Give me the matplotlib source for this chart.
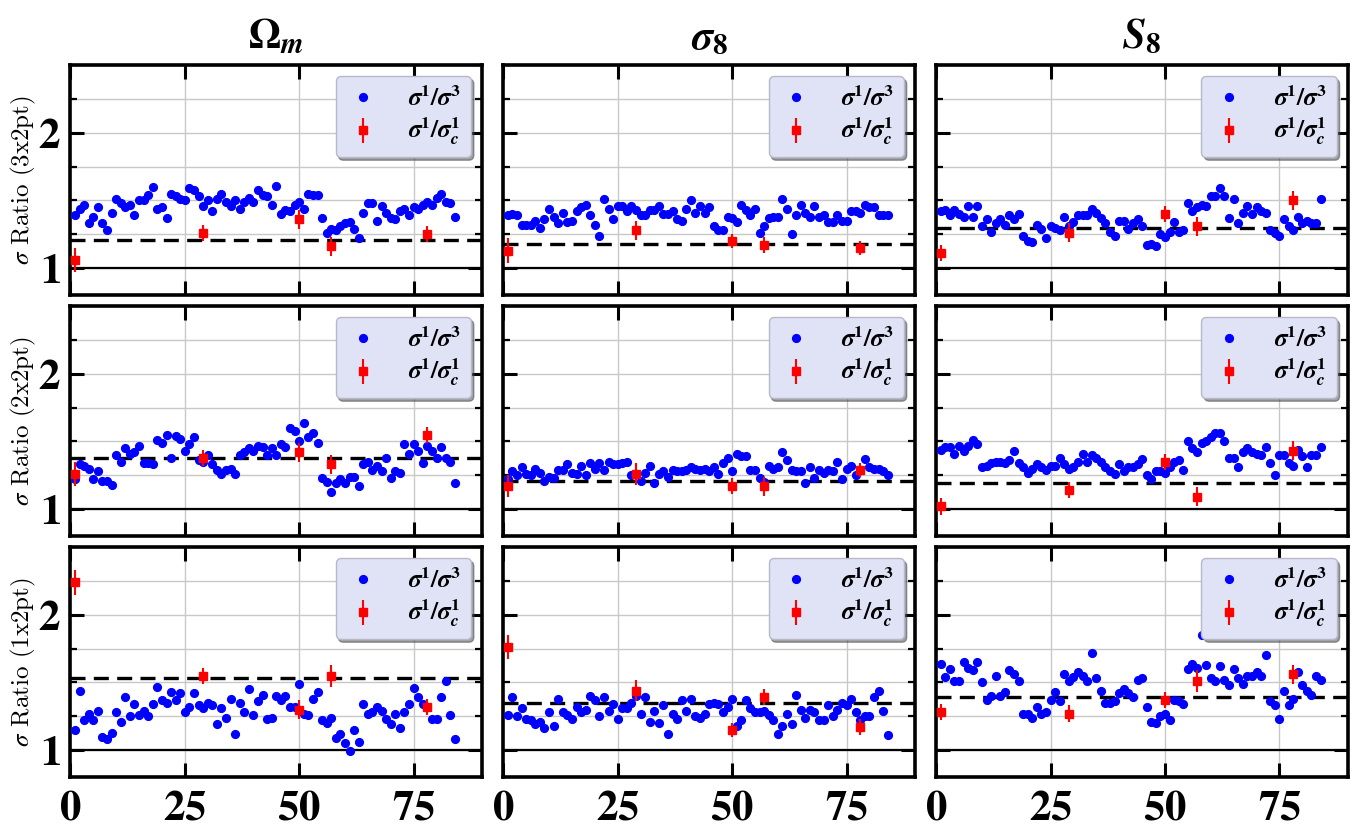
import numpy as np
import matplotlib
matplotlib.use("Agg")
import matplotlib.pyplot as plt
from matplotlib.ticker import MultipleLocator, FixedLocator, FuncFormatter, NullLocator
from matplotlib import mathtext
from io import BytesIO

plt.rcParams["mathtext.fontset"] = "stix"
plt.rcParams["font.family"] = "serif"
plt.rcParams["font.serif"] = ["cmr10", "DejaVu Serif"]
plt.rcParams["axes.formatter.use_mathtext"] = True

# ---------------------------------------------------------------- data
params = ["Omega_m", "sigma_8", "S_8"]
probes = ["3x2pt", "2x2pt", "1x2pt"]

idx = np.arange(1, 85)
red_idx = np.array([1, 29, 50, 57, 78])

# sigma^1 / sigma^3, rows = probes, columns = parameters
r3_om = [1.39, 1.44, 1.47, 1.33, 1.38, 1.45, 1.33, 1.28, 1.41, 1.51, 1.48, 1.45, 1.47, 1.39, 1.50, 1.50, 1.54, 1.60, 1.44, 1.45,
         1.37, 1.55, 1.53, 1.51, 1.50, 1.59, 1.58, 1.53, 1.46, 1.50, 1.42, 1.51, 1.55, 1.49, 1.46, 1.50, 1.44, 1.49, 1.52, 1.49,
         1.58, 1.54, 1.53, 1.47, 1.61, 1.40, 1.43, 1.42, 1.47, 1.49, 1.44, 1.55, 1.54, 1.54, 1.37, 1.26, 1.29, 1.28, 1.31, 1.33,
         1.34, 1.29, 1.22, 1.41, 1.48, 1.48, 1.35, 1.46, 1.41, 1.37, 1.36, 1.42, 1.44, 1.39, 1.45, 1.44, 1.47, 1.49, 1.47, 1.52,
         1.55, 1.49, 1.48, 1.38]
r3_s8 = [1.39, 1.40, 1.39, 1.32, 1.32, 1.32, 1.35, 1.30, 1.36, 1.44, 1.38, 1.33, 1.41, 1.34, 1.35, 1.42, 1.45, 1.47, 1.39, 1.32,
         1.24, 1.51, 1.44, 1.36, 1.46, 1.46, 1.42, 1.46, 1.43, 1.39, 1.39, 1.43, 1.43, 1.46, 1.40, 1.40, 1.42, 1.36, 1.35, 1.44,
         1.50, 1.41, 1.46, 1.41, 1.45, 1.31, 1.28, 1.28, 1.38, 1.37, 1.34, 1.47, 1.43, 1.39, 1.44, 1.26, 1.31, 1.37, 1.38, 1.38,
         1.51, 1.44, 1.25, 1.39, 1.47, 1.41, 1.38, 1.46, 1.38, 1.39, 1.34, 1.34, 1.39, 1.35, 1.35, 1.42, 1.42, 1.41, 1.47, 1.45,
         1.45, 1.39, 1.39, 1.39]
r3_S8 = [1.42, 1.43, 1.39, 1.43, 1.40, 1.38, 1.46, 1.38, 1.46, 1.31, 1.36, 1.27, 1.33, 1.36, 1.32, 1.39, 1.36, 1.40, 1.24, 1.20,
         1.19, 1.32, 1.29, 1.22, 1.31, 1.30, 1.28, 1.38, 1.31, 1.34, 1.39, 1.39, 1.39, 1.44, 1.41, 1.37, 1.33, 1.27, 1.24, 1.35,
         1.35, 1.29, 1.33, 1.36, 1.31, 1.17, 1.18, 1.16, 1.25, 1.23, 1.27, 1.34, 1.27, 1.28, 1.48, 1.42, 1.45, 1.47, 1.46, 1.53,
         1.53, 1.59, 1.53, 1.37, 1.51, 1.33, 1.41, 1.46, 1.40, 1.45, 1.42, 1.41, 1.28, 1.26, 1.24, 1.36, 1.31, 1.28, 1.38, 1.33,
         1.35, 1.33, 1.33, 1.51]
r2_om = [1.22, 1.33, 1.32, 1.30, 1.22, 1.28, 1.21, 1.21, 1.18, 1.40, 1.35, 1.45, 1.41, 1.42, 1.47, 1.34, 1.34, 1.33, 1.51, 1.49,
         1.55, 1.38, 1.54, 1.52, 1.43, 1.48, 1.53, 1.36, 1.35, 1.40, 1.33, 1.29, 1.26, 1.29, 1.30, 1.26, 1.40, 1.42, 1.45, 1.43,
         1.47, 1.46, 1.40, 1.45, 1.40, 1.48, 1.46, 1.60, 1.58, 1.50, 1.64, 1.53, 1.56, 1.49, 1.23, 1.20, 1.13, 1.19, 1.22, 1.19,
         1.24, 1.24, 1.17, 1.33, 1.35, 1.29, 1.32, 1.28, 1.38, 1.23, 1.28, 1.27, 1.48, 1.41, 1.48, 1.43, 1.34, 1.47, 1.43, 1.38,
         1.46, 1.38, 1.35, 1.19]
r2_s8 = [1.22, 1.28, 1.25, 1.31, 1.26, 1.25, 1.30, 1.27, 1.21, 1.24, 1.23, 1.29, 1.29, 1.33, 1.27, 1.26, 1.32, 1.25, 1.34, 1.30,
         1.34, 1.29, 1.35, 1.33, 1.33, 1.34, 1.35, 1.25, 1.26, 1.21, 1.27, 1.32, 1.19, 1.26, 1.28, 1.24, 1.29, 1.28, 1.28, 1.29,
         1.31, 1.30, 1.29, 1.30, 1.28, 1.31, 1.26, 1.34, 1.38, 1.28, 1.41, 1.39, 1.39, 1.29, 1.29, 1.23, 1.20, 1.32, 1.30, 1.31,
         1.42, 1.36, 1.29, 1.28, 1.28, 1.19, 1.31, 1.23, 1.29, 1.27, 1.29, 1.28, 1.35, 1.22, 1.30, 1.32, 1.25, 1.29, 1.37, 1.31,
         1.30, 1.30, 1.28, 1.25]
r2_S8 = [1.44, 1.46, 1.46, 1.41, 1.47, 1.43, 1.47, 1.51, 1.48, 1.31, 1.32, 1.34, 1.35, 1.35, 1.34, 1.36, 1.43, 1.34, 1.31, 1.27,
         1.30, 1.33, 1.31, 1.29, 1.32, 1.32, 1.38, 1.33, 1.30, 1.31, 1.35, 1.41, 1.35, 1.40, 1.38, 1.35, 1.31, 1.28, 1.26, 1.33,
         1.28, 1.31, 1.31, 1.33, 1.37, 1.25, 1.22, 1.28, 1.28, 1.27, 1.31, 1.35, 1.36, 1.29, 1.50, 1.45, 1.42, 1.49, 1.50, 1.53,
         1.56, 1.56, 1.50, 1.38, 1.38, 1.31, 1.42, 1.45, 1.42, 1.41, 1.40, 1.46, 1.34, 1.25, 1.40, 1.40, 1.34, 1.32, 1.44, 1.39,
         1.31, 1.40, 1.40, 1.46]
r1_om = [1.15, 1.44, 1.22, 1.27, 1.22, 1.29, 1.10, 1.08, 1.13, 1.28, 1.21, 1.39, 1.25, 1.34, 1.26, 1.29, 1.25, 1.34, 1.47, 1.37,
         1.35, 1.43, 1.37, 1.42, 1.28, 1.32, 1.42, 1.33, 1.31, 1.35, 1.33, 1.19, 1.31, 1.24, 1.38, 1.12, 1.35, 1.28, 1.45, 1.26,
         1.36, 1.41, 1.23, 1.24, 1.40, 1.37, 1.40, 1.32, 1.32, 1.49, 1.27, 1.26, 1.38, 1.43, 1.22, 1.20, 1.24, 1.09, 1.12, 1.05,
         0.99, 1.15, 1.06, 1.34, 1.27, 1.28, 1.32, 1.29, 1.23, 1.19, 1.27, 1.16, 1.28, 1.34, 1.46, 1.39, 1.34, 1.32, 1.23, 1.23,
         1.39, 1.51, 1.26, 1.08]
r1_s8 = [1.26, 1.39, 1.25, 1.31, 1.23, 1.22, 1.19, 1.21, 1.16, 1.28, 1.18, 1.38, 1.28, 1.26, 1.23, 1.32, 1.28, 1.30, 1.40, 1.37,
         1.25, 1.39, 1.29, 1.34, 1.23, 1.31, 1.31, 1.35, 1.40, 1.27, 1.39, 1.21, 1.29, 1.20, 1.33, 1.12, 1.27, 1.23, 1.37, 1.29,
         1.38, 1.25, 1.24, 1.27, 1.34, 1.35, 1.34, 1.28, 1.32, 1.38, 1.18, 1.22, 1.37, 1.31, 1.28, 1.28, 1.29, 1.26, 1.22, 1.12,
         1.18, 1.27, 1.19, 1.41, 1.30, 1.24, 1.30, 1.28, 1.22, 1.22, 1.33, 1.25, 1.30, 1.35, 1.33, 1.38, 1.28, 1.22, 1.25, 1.25,
         1.39, 1.44, 1.29, 1.11]
r1_S8 = [1.64, 1.54, 1.60, 1.51, 1.51, 1.65, 1.61, 1.59, 1.65, 1.50, 1.37, 1.40, 1.55, 1.40, 1.43, 1.59, 1.56, 1.51, 1.27, 1.27,
         1.24, 1.32, 1.27, 1.28, 1.37, 1.43, 1.36, 1.56, 1.51, 1.54, 1.58, 1.55, 1.51, 1.72, 1.53, 1.44, 1.35, 1.35, 1.36, 1.42,
         1.45, 1.42, 1.39, 1.52, 1.53, 1.32, 1.21, 1.20, 1.25, 1.27, 1.22, 1.37, 1.36, 1.34, 1.60, 1.64, 1.61, 1.85, 1.63, 1.53,
         1.51, 1.62, 1.52, 1.48, 1.60, 1.53, 1.49, 1.55, 1.55, 1.58, 1.55, 1.70, 1.36, 1.33, 1.23, 1.44, 1.33, 1.38, 1.58, 1.48,
         1.44, 1.41, 1.55, 1.52]

# sigma^1 / sigma^1_c with uncertainties
c3_om = [1.06, 1.26, 1.36, 1.16, 1.25]
c3_s8 = [1.13, 1.28, 1.20, 1.17, 1.15]
c3_S8 = [1.11, 1.26, 1.40, 1.31, 1.50]
c2_om = [1.26, 1.38, 1.42, 1.33, 1.55]
c2_s8 = [1.17, 1.26, 1.17, 1.17, 1.29]
c2_S8 = [1.02, 1.14, 1.35, 1.09, 1.43]
c1_om = [2.24, 1.55, 1.30, 1.55, 1.32]
c1_s8 = [1.76, 1.44, 1.15, 1.39, 1.17]
c1_S8 = [1.28, 1.27, 1.37, 1.51, 1.56]

e3_om = [0.09, 0.06, 0.07, 0.07, 0.06]
e3_s8 = [0.09, 0.07, 0.05, 0.06, 0.05]
e3_S8 = [0.06, 0.07, 0.06, 0.07, 0.07]
e2_om = [0.09, 0.06, 0.07, 0.07, 0.06]
e2_s8 = [0.08, 0.08, 0.06, 0.07, 0.05]
e2_S8 = [0.06, 0.06, 0.06, 0.07, 0.07]
e1_om = [0.09, 0.06, 0.07, 0.08, 0.06]
e1_s8 = [0.09, 0.08, 0.05, 0.06, 0.06]
e1_S8 = [0.06, 0.06, 0.06, 0.08, 0.07]

# reference levels (dashed)
level_3x2 = [1.21, 1.18, 1.30]
level_2x2 = [1.38, 1.21, 1.19]
level_1x2 = [1.53, 1.35, 1.39]

ratio13 = [[r3_om, r3_s8, r3_S8], [r2_om, r2_s8, r2_S8], [r1_om, r1_s8, r1_S8]]
ratio1c = [[c3_om, c3_s8, c3_S8], [c2_om, c2_s8, c2_S8], [c1_om, c1_s8, c1_S8]]
ratio1c_err = [[e3_om, e3_s8, e3_S8], [e2_om, e2_s8, e2_S8], [e1_om, e1_s8, e1_S8]]
levels = [level_3x2, level_2x2, level_1x2]


def renders(s):
    try:
        mathtext.math_to_image(s, BytesIO(), dpi=72, format="png")
        return True
    except Exception:
        return False


if renders(r"$\mathbfit{\sigma}_{\mathbf{8}}$"):
    titles = [r"$\mathbf{\Omega}_{\mathbfit{m}}$", r"$\mathbfit{\sigma}_{\mathbf{8}}$", r"$\mathbfit{S}_{\mathbf{8}}$"]
    lab13 = r"$\mathbfit{\sigma}^{\mathbf{1}}\mathbf{/}\mathbfit{\sigma}^{\mathbf{3}}$"
    lab1c = r"$\mathbfit{\sigma}^{\mathbf{1}}\mathbf{/}\mathbfit{\sigma}^{\mathbf{1}}_{\mathbfit{c}}$"
else:
    titles = [r"$\mathbf{\Omega}_m$", r"$\sigma_8$", r"$S_8$"]
    lab13 = r"$\sigma^1/\sigma^3$"
    lab1c = r"$\sigma^1/\sigma^1_c$"

# ---------------------------------------------------------------- figure
fig, axes = plt.subplots(3, 3, figsize=(13.54, 8.25), dpi=100, sharex=True, sharey=True)
fig.subplots_adjust(left=0.052, right=0.9956, top=0.921, bottom=0.058, wspace=0.051, hspace=0.048)

bold_int = FuncFormatter(lambda v, p: r"$\mathbf{%d}$" % int(round(v)))

for r in range(3):
    for c in range(3):
        ax = axes[r, c]
        ax.set_axisbelow(True)
        ax.axhline(1.0, color="black", lw=1.6, zorder=1)
        ax.axhline(levels[r][c], color="black", lw=2.4, ls=(0, (4.5, 2.5)), zorder=1)
        ax.plot(idx, ratio13[r][c], "o", color="blue", ms=5.6, mec="blue",
                label=lab13, zorder=3)
        ax.errorbar(red_idx, ratio1c[r][c], yerr=ratio1c_err[r][c], fmt="s",
                    color="red", ms=6.0, elinewidth=1.5, capsize=0, label=lab1c, zorder=4)

        ax.set_xlim(0, 90)
        ax.set_ylim(0.8, 2.5)
        ax.xaxis.set_major_locator(FixedLocator([0, 25, 50, 75]))
        ax.xaxis.set_minor_locator(NullLocator())
        ax.yaxis.set_major_locator(MultipleLocator(1))
        ax.yaxis.set_minor_locator(MultipleLocator(0.25))
        ax.xaxis.set_major_formatter(bold_int)
        ax.yaxis.set_major_formatter(bold_int)
        ax.grid(True, which="major", axis="x", color="#c8c8c8", lw=1.0)
        ax.grid(True, which="both", axis="y", color="#c8c8c8", lw=1.0)
        ax.tick_params(which="both", direction="in", top=True, right=True, labelsize=31)
        ax.tick_params(axis="x", pad=9)
        ax.tick_params(axis="y", pad=7)
        ax.tick_params(which="major", length=10, width=2.2)
        ax.tick_params(which="minor", length=5, width=1.6)
        for sp in ax.spines.values():
            sp.set_linewidth(2.6)

        leg = ax.legend(loc="upper right", fontsize=18, frameon=True, fancybox=True,
                        shadow=True, framealpha=1.0, facecolor="#e0e2f6",
                        edgecolor="#b8b8c8", handletextpad=1.1, handlelength=1.4,
                        borderaxespad=0.45, labelspacing=0.2, borderpad=0.4)
        leg.get_frame().set_linewidth(1.0)

        if r == 0:
            ax.set_title(titles[c], fontsize=30, pad=12)
        if c == 0:
            ax.set_ylabel(r"$\sigma$ Ratio (%s)" % probes[r], fontsize=18, labelpad=0)

fig.savefig("out.png", dpi=100)
